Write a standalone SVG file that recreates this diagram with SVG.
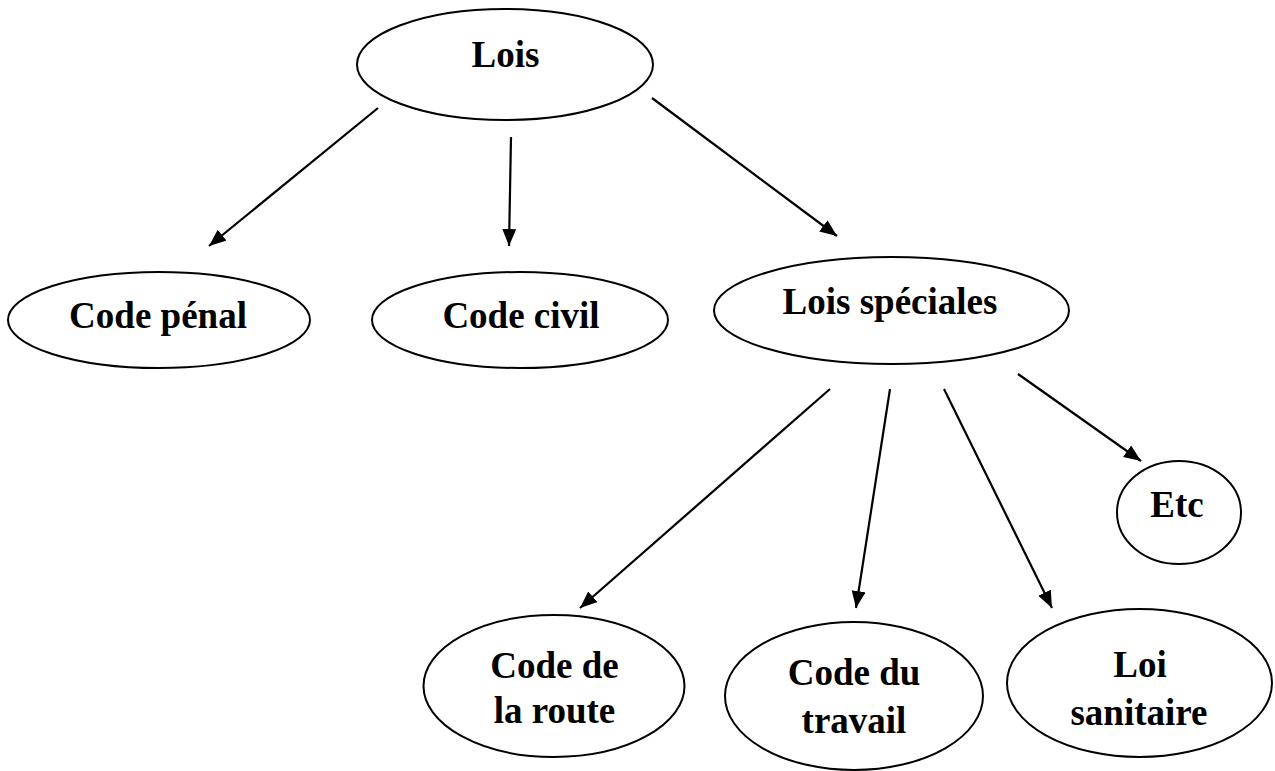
<svg xmlns="http://www.w3.org/2000/svg" width="1275" height="771" viewBox="0 0 1275 771">
  <style>
    .node ellipse { fill: #fff; stroke: #000; stroke-width: 2; }
    .node text { font-family: "Liberation Serif", "Times New Roman", serif; font-weight: bold; font-size: 37px; fill: #000; text-anchor: middle; }
    .edge { stroke: #000; stroke-width: 2.2; fill: none; marker-end: url(#arrow); }
  </style>
  <defs>
    <marker id="arrow" markerUnits="userSpaceOnUse" markerWidth="20" markerHeight="16" refX="17" refY="7" orient="auto">
      <path d="M0,0 L17,7 L0,14 Z" fill="#000"/>
    </marker>
  </defs>
  <rect width="1275" height="771" fill="#fff"/>

  <g id="connectors">
    <line class="edge" x1="378" y1="108" x2="209" y2="246"/>
    <line class="edge" x1="511" y1="137" x2="509" y2="246"/>
    <line class="edge" x1="652" y1="98" x2="837" y2="236"/>
    <line class="edge" x1="830" y1="389" x2="580" y2="608"/>
    <line class="edge" x1="890" y1="389" x2="856" y2="608"/>
    <line class="edge" x1="944" y1="389" x2="1052" y2="608"/>
    <line class="edge" x1="1018" y1="374" x2="1141" y2="461"/>
  </g>

  <g id="lois" class="node">
    <ellipse cx="505" cy="64.5" rx="148" ry="55.5"/>
    <text x="505.5" y="67">Lois</text>
  </g>
  <g id="code-penal" class="node">
    <ellipse cx="159" cy="320" rx="151" ry="48"/>
    <text x="158" y="328">Code pénal</text>
  </g>
  <g id="code-civil" class="node">
    <ellipse cx="520" cy="320" rx="148" ry="48"/>
    <text x="521" y="328">Code civil</text>
  </g>
  <g id="lois-speciales" class="node">
    <ellipse cx="891.5" cy="310.5" rx="177.5" ry="53.5"/>
    <text x="890" y="314">Lois spéciales</text>
  </g>
  <g id="etc" class="node">
    <ellipse cx="1179" cy="512.5" rx="62" ry="51.5"/>
    <text x="1177" y="517">Etc</text>
  </g>
  <g id="code-route" class="node">
    <ellipse cx="554" cy="686" rx="130.5" ry="71"/>
    <text x="554.5" y="678">Code de</text>
    <text x="554.5" y="723">la route</text>
  </g>
  <g id="code-travail" class="node">
    <ellipse cx="854" cy="696" rx="129" ry="74"/>
    <text x="854" y="685">Code du</text>
    <text x="854" y="733">travail</text>
  </g>
  <g id="loi-sanitaire" class="node">
    <ellipse cx="1139.5" cy="683" rx="132.5" ry="74"/>
    <text x="1140" y="677">Loi</text>
    <text x="1139" y="725">sanitaire</text>
  </g>
</svg>
